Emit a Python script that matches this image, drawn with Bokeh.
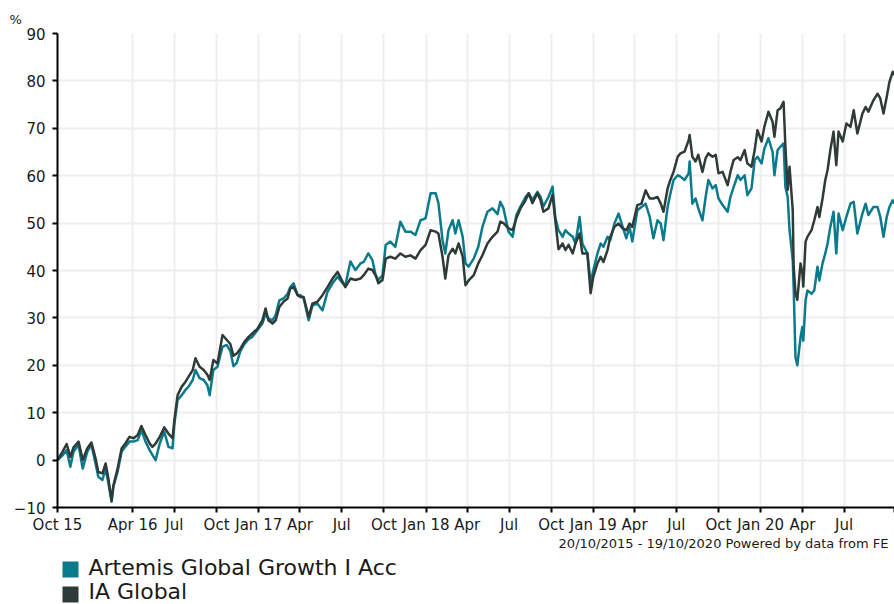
import pandas as pd
from bokeh.plotting import figure
from bokeh.layouts import column
from bokeh.models import Range1d, FixedTicker, LinearAxis, Grid, Title
from bokeh.core.properties import value
from bokeh.embed import file_html
from bokeh.resources import INLINE

# ---------------- data ----------------
dates = [
    "2015-10-20", "2015-10-31", "2015-11-09", "2015-11-17", "2015-11-24", "2015-12-05",
    "2015-12-14", "2015-12-24", "2016-01-02", "2016-01-11", "2016-01-17", "2016-01-26",
    "2016-02-02", "2016-02-08", "2016-02-15", "2016-02-19", "2016-02-28", "2016-03-08",
    "2016-03-16", "2016-03-25", "2016-04-03", "2016-04-12", "2016-04-20", "2016-04-29",
    "2016-05-08", "2016-05-14", "2016-05-21", "2016-05-30", "2016-06-09", "2016-06-18",
    "2016-06-27", "2016-07-01", "2016-07-08", "2016-07-17", "2016-07-25", "2016-08-01",
    "2016-08-10", "2016-08-16", "2016-08-25", "2016-09-03", "2016-09-11", "2016-09-16",
    "2016-09-24", "2016-10-03", "2016-10-14", "2016-10-23",
    "2016-10-31", "2016-11-07", "2016-11-14", "2016-11-22", "2016-12-01", "2016-12-10",
    "2016-12-18", "2016-12-29", "2017-01-09", "2017-01-16", "2017-01-22", "2017-01-31",
    "2017-02-07", "2017-02-15", "2017-02-24", "2017-03-05", "2017-03-11", "2017-03-18",
    "2017-03-27", "2017-04-02", "2017-04-09", "2017-04-20", "2017-04-28", "2017-05-09",
    "2017-05-20", "2017-05-31", "2017-06-11", "2017-06-22", "2017-07-03", "2017-07-09",
    "2017-07-20", "2017-07-31", "2017-08-11", "2017-08-18", "2017-08-28", "2017-09-06",
    "2017-09-13", "2017-09-19", "2017-09-28",
    "2017-10-05", "2017-10-15", "2017-10-26", "2017-11-06", "2017-11-17", "2017-11-28",
    "2017-12-09", "2017-12-20", "2017-12-31", "2018-01-11", "2018-01-22", "2018-01-28",
    "2018-02-06", "2018-02-12", "2018-02-19", "2018-02-28", "2018-03-06", "2018-03-13",
    "2018-03-22", "2018-03-28", "2018-04-04", "2018-04-15", "2018-04-25", "2018-05-04",
    "2018-05-15", "2018-05-26", "2018-06-06", "2018-06-12", "2018-06-19", "2018-06-30",
    "2018-07-09", "2018-07-17", "2018-07-26", "2018-08-06", "2018-08-13", "2018-08-21",
    "2018-09-01", "2018-09-08", "2018-09-14", "2018-09-25", "2018-10-04", "2018-10-10",
    "2018-10-17",
    "2018-10-26", "2018-11-01", "2018-11-08", "2018-11-17", "2018-11-23", "2018-12-02",
    "2018-12-08", "2018-12-19", "2018-12-26", "2019-01-01", "2019-01-10", "2019-01-17",
    "2019-01-23", "2019-02-01", "2019-02-07", "2019-02-16", "2019-02-25", "2019-03-06",
    "2019-03-14", "2019-03-21", "2019-03-27", "2019-04-07", "2019-04-16", "2019-04-25",
    "2019-05-04", "2019-05-12", "2019-05-21", "2019-05-28", "2019-06-03", "2019-06-12",
    "2019-06-18", "2019-06-25", "2019-07-04", "2019-07-10", "2019-07-19", "2019-07-28",
    "2019-07-30", "2019-08-05", "2019-08-12", "2019-08-18", "2019-08-27", "2019-09-03",
    "2019-09-09", "2019-09-18", "2019-09-25", "2019-10-01", "2019-10-10",
    "2019-10-21", "2019-10-27", "2019-11-03", "2019-11-12", "2019-11-18", "2019-11-27",
    "2019-12-03", "2019-12-12", "2019-12-19", "2019-12-25", "2020-01-03", "2020-01-09",
    "2020-01-18", "2020-01-27", "2020-01-31", "2020-02-07", "2020-02-13", "2020-02-20",
    "2020-02-24", "2020-02-29", "2020-03-04", "2020-03-11", "2020-03-13", "2020-03-17",
    "2020-03-21", "2020-03-28", "2020-04-01", "2020-04-03", "2020-04-08", "2020-04-12",
    "2020-04-21", "2020-04-27", "2020-05-04", "2020-05-08", "2020-05-15", "2020-05-21",
    "2020-05-26", "2020-06-01", "2020-06-08", "2020-06-14", "2020-06-19", "2020-06-28",
    "2020-07-06", "2020-07-15", "2020-07-22", "2020-07-30", "2020-08-10", "2020-08-17",
    "2020-08-23", "2020-09-03", "2020-09-12", "2020-09-18", "2020-09-25", "2020-10-02",
    "2020-10-08", "2020-10-15", "2020-10-19",
]

ia_global = [
    0.0, 1.8, 3.4, 0.7, 2.7, 3.9,
    0.0, 2.5, 3.7, 0.4, -2.5, -2.8,
    -0.7, -3.9, -8.5, -5.3, -1.8, 2.5,
    3.5, 4.9, 4.6, 5.3, 7.2, 5.3,
    3.5, 2.8, 3.5, 4.9, 6.9, 5.6,
    4.6, 8.5, 13.7, 15.5, 16.5, 17.6,
    19.0, 21.5, 19.7, 19.0, 18.0, 16.9,
    21.1, 20.4, 26.4, 25.4,
    24.5, 22.0, 22.5, 23.5, 25.0, 26.0,
    26.7, 27.7, 29.5, 32.0, 29.5, 28.8,
    29.5, 32.3, 33.4, 34.1, 36.2, 36.5,
    34.8, 34.4, 34.4, 30.2, 33.0, 33.4,
    34.8, 36.5, 38.3, 39.7, 37.6, 36.5,
    38.3, 38.0, 38.3, 39.0, 40.4, 40.1,
    39.0, 37.3, 38.0,
    42.5, 42.9, 42.5, 43.6, 42.9, 43.2,
    42.5, 44.3, 45.4, 48.5, 48.2, 47.8,
    42.9, 38.3, 43.2, 44.6, 43.6, 45.7,
    42.9, 36.9, 37.9, 39.0, 41.5, 43.2,
    45.7, 47.1, 48.2, 50.3, 50.0, 48.9,
    48.5, 51.0, 53.1, 54.8, 56.3, 54.2,
    56.3, 54.8, 52.4, 53.1, 56.0, 50.6,
    44.5,
    45.7, 44.3, 45.4, 43.6, 45.7, 47.8,
    43.6, 43.6, 35.2, 38.7, 41.5, 42.9,
    41.8, 44.3, 47.1, 49.2, 49.9, 48.9,
    48.5, 49.9, 49.2, 53.8, 54.1, 56.9,
    55.2, 55.2, 55.5, 54.1, 52.4, 57.3,
    59.1, 60.8, 64.0, 64.7, 65.1, 67.5,
    68.6, 64.0, 63.0, 64.4, 60.8, 63.7,
    64.7, 64.0, 64.4, 60.5, 60.8,
    58.0, 60.8, 63.3, 63.9, 63.3, 65.4,
    62.6, 61.9, 65.4, 69.6, 67.2, 70.3,
    73.5, 71.4, 68.2, 73.8, 74.2, 75.6,
    66.1, 57.0, 61.9, 52.7, 40.8, 35.2,
    33.8, 41.5, 39.4, 36.6, 46.1, 47.1,
    48.5, 50.6, 53.4, 51.3, 55.2, 59.1,
    61.2, 65.4, 69.3, 62.2, 69.3, 67.2,
    71.0, 70.3, 73.8, 68.9, 73.1, 74.5,
    73.5, 75.9, 77.3, 76.3, 73.1, 76.6,
    79.8, 81.9, 81.2,
]

artemis = [
    0.0, 1.0, 2.1, -1.4, 1.8, 3.2,
    -1.8, 1.8, 3.2, -0.7, -3.5, -4.2,
    -1.8, -4.9, -8.8, -5.6, -2.5, 1.8,
    2.8, 3.9, 3.9, 4.2, 6.3, 3.9,
    2.1, 1.1, 0.0, 3.5, 6.0, 2.8,
    2.5, 7.7, 12.7, 13.7, 14.8, 15.5,
    16.9, 19.0, 17.3, 16.9, 15.8, 13.7,
    19.0, 19.7, 23.9, 24.3,
    23.0, 19.8, 20.5, 23.0, 24.5, 25.5,
    26.0, 27.4, 28.8, 30.9, 29.9, 29.5,
    30.6, 33.7, 34.1, 35.1, 36.5, 37.3,
    34.8, 34.8, 34.1, 29.5, 32.6, 33.0,
    31.6, 35.5, 37.3, 38.7, 37.3, 36.9,
    41.9, 40.1, 41.5, 41.8, 43.6, 42.2,
    39.0, 38.0, 39.0,
    45.4, 46.1, 45.0, 50.3, 48.2, 48.2,
    47.5, 50.6, 51.0, 56.3, 56.3, 54.2,
    46.4, 43.6, 48.5, 50.6, 47.8, 50.6,
    47.1, 41.5, 40.8, 42.5, 45.0, 49.2,
    52.4, 53.1, 51.9, 54.5, 53.1, 48.2,
    47.1, 51.7, 53.5, 55.5, 56.3, 54.9,
    56.6, 55.5, 53.5, 55.5, 57.7, 51.2,
    48.5,
    47.1, 48.5, 47.8, 47.1, 45.7, 51.3,
    45.7, 43.6, 37.3, 40.1, 43.6, 45.7,
    45.0, 47.1, 46.4, 49.9, 52.0, 49.2,
    46.8, 49.2, 46.1, 52.7, 53.4, 54.1,
    51.3, 46.8, 50.6, 49.9, 46.4, 53.4,
    56.2, 59.1, 60.1, 59.8, 59.1, 60.5,
    63.0, 54.1, 55.2, 53.1, 50.6, 55.5,
    59.1, 57.3, 58.0, 55.2, 53.8,
    52.4, 55.5, 57.6, 60.1, 59.1, 60.1,
    55.9, 57.3, 63.3, 64.0, 62.6, 65.7,
    67.9, 65.0, 60.1, 65.4, 66.1, 66.8,
    57.6, 55.5, 48.5, 42.2, 36.5, 21.7,
    20.0, 25.9, 28.1, 25.2, 33.7, 35.8,
    35.1, 35.8, 40.8, 37.9, 41.5, 43.6,
    45.7, 49.2, 52.4, 43.6, 52.0, 48.5,
    51.3, 54.1, 54.5, 47.8, 52.0, 54.1,
    51.7, 53.4, 53.4, 51.3, 47.1, 51.3,
    53.4, 54.8, 54.1,
]

tick_dates = [
    "2015-10-20", "2016-04-01", "2016-07-01", "2016-10-01",
    "2017-01-01", "2017-04-01", "2017-07-01", "2017-10-01",
    "2018-01-01", "2018-04-01", "2018-07-01", "2018-10-01",
    "2019-01-01", "2019-04-01", "2019-07-01", "2019-10-01",
    "2020-01-01", "2020-04-01", "2020-07-01", "2020-10-19",
]
tick_labels = [
    "Oct 15", "Apr 16", "Jul", "Oct",
    "Jan 17", "Apr", "Jul", "Oct",
    "Jan 18", "Apr", "Jul", "Oct",
    "Jan 19", "Apr", "Jul", "Oct",
    "Jan 20", "Apr", "Jul", "",
]
y_ticks = [-10, 0, 10, 20, 30, 40, 50, 60, 70, 80, 90]

series_names = ["Artemis Global Growth I Acc", "IA Global"]
series_colors = ["#0a7a8c", "#2f3b38"]
footer_text = "20/10/2015 - 19/10/2020 Powered by data from FE"
unit_text = "%"

# ---------------- helpers ----------------
def to_ms(d):
    return int(pd.Timestamp(d).timestamp() * 1000)

xs = [to_ms(d) for d in dates]
tick_ms = [to_ms(d) for d in tick_dates]

FONT = "DejaVu Sans"
TXT = "#1a1a1a"
W = 894
H = 604
MAIN_H = 537
LEFT = 57

p = figure(width=W, height=MAIN_H, output_backend="svg", toolbar_location=None,
           x_range=Range1d(tick_ms[0], tick_ms[-1]), y_range=Range1d(-10, 90),
           x_axis_type=None, y_axis_type=None, title=None,
           min_border_left=LEFT, min_border_right=0, min_border_top=33,
           min_border_bottom=MAIN_H - 33 - 474)
p.outline_line_color = None
p.background_fill_color = "white"
p.border_fill_color = "white"

xaxis = LinearAxis(ticker=FixedTicker(ticks=tick_ms),
                   major_label_overrides={t: l for t, l in zip(tick_ms, tick_labels)})
yaxis = LinearAxis(ticker=FixedTicker(ticks=y_ticks))
for ax in (xaxis, yaxis):
    ax.axis_line_color = "black"
    ax.axis_line_width = 2
    ax.major_tick_line_color = "black"
    ax.major_tick_line_width = 2
    ax.major_tick_in = 0
    ax.major_tick_out = 5
    ax.minor_tick_line_color = None
    ax.major_label_text_font = FONT
    ax.major_label_text_font_size = "15px"
    ax.major_label_text_color = TXT
xaxis.major_label_standoff = 3
yaxis.major_label_standoff = 7
p.add_layout(xaxis, "below")
p.add_layout(yaxis, "left")

p.add_layout(Grid(dimension=0, ticker=xaxis.ticker, grid_line_color="#eeeeee",
                  grid_line_width=2))
p.add_layout(Grid(dimension=1, ticker=yaxis.ticker, grid_line_color="#eeeeee",
                  grid_line_width=2))

p.line(xs, artemis, line_color=series_colors[0], line_width=2.5, line_join="round")
p.line(xs, ia_global, line_color=series_colors[1], line_width=2.5, line_join="round")

# unit label above the y axis
p.add_layout(Title(text=unit_text, align="left", offset=-48, text_font=FONT,
                   text_font_size="13px", text_font_style="normal",
                   text_color=TXT, standoff=13), "above")

# ---------------- footer + legend strip (pixel-space figure) ----------------
# its frame is aligned with the main frame, so page pixels are used as data units
lg = figure(width=W, height=H - MAIN_H, output_backend="svg", toolbar_location=None,
            x_range=Range1d(LEFT, W), y_range=Range1d(H, MAIN_H),
            x_axis_type=None, y_axis_type=None, title=None,
            min_border_left=LEFT, min_border_right=0,
            min_border_top=0, min_border_bottom=0)
lg.outline_line_color = None
lg.background_fill_color = "white"
lg.border_fill_color = "white"

lg.text(x=[888], y=[543], text=[footer_text],
        text_font=value(FONT), text_font_size="13px", text_color=TXT,
        text_align="right", text_baseline="middle")

swatch_y = [569 + 25 * i for i in range(len(series_names))]
label_y = [567 + 24 * i for i in range(len(series_names))]
lg.rect(x=[70] * len(series_names), y=swatch_y, width=16, height=16,
        fill_color=series_colors, line_color=None)
lg.text(x=[88] * len(series_names), y=label_y, text=series_names,
        text_font=value(FONT), text_font_size="22px", text_color=TXT,
        text_align="left", text_baseline="middle")

layout = column(p, lg, spacing=0)
open("out.html", "w").write(file_html(layout, INLINE))
